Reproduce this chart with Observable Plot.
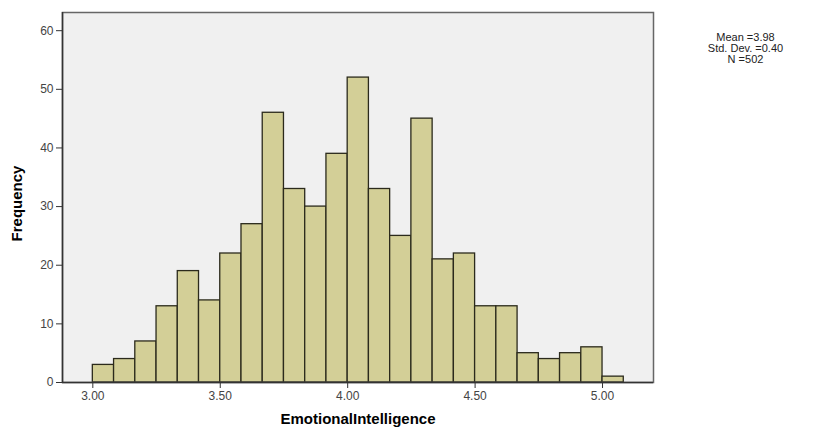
<!DOCTYPE html>
<html>
<head>
<meta charset="utf-8">
<script src="https://cdn.jsdelivr.net/npm/d3@7"></script>
<script src="https://cdn.jsdelivr.net/npm/@observablehq/plot@0.6"></script>
<style>
  html, body { margin: 0; padding: 0; background: #fff; }
  #chart svg { display: block; }
</style>
</head>
<body>
<div id="chart"></div>
<script>
// Histogram of EmotionalIntelligence (bin width 1/12, starting at 3.00)
const binStart = 3.0;
const binWidth = 1 / 12;
const counts = [3, 4, 7, 13, 19, 14, 22, 27, 46, 33, 30, 39, 52, 33, 25, 45, 21, 22, 13, 13, 5, 4, 5, 6, 1];
const xTicks = [3.0, 3.5, 4.0, 4.5, 5.0];
const yTicks = [0, 10, 20, 30, 40, 50, 60];
const statsLines = ["Mean =3.98", "Std. Dev. =0.40", "N =502"];

const bins = counts.map((c, i) => ({
  x1: binStart + i * binWidth,
  x2: binStart + (i + 1) * binWidth,
  count: c
}));

const chart = Plot.plot({
  width: 813,
  height: 432,
  marginLeft: 62,
  marginRight: 160,
  marginTop: 12,
  marginBottom: 50,
  style: { fontFamily: "'Liberation Sans', Arial, sans-serif", fontSize: "12px", color: "#333", background: "#fff" },
  x: { domain: [2.881, 5.2], ticks: xTicks, tickFormat: d3.format(".2f"), label: null },
  y: { domain: [0, 63.1], ticks: yTicks, label: null },
  marks: [
    Plot.frame({ fill: "#f0f0f0", stroke: "none" }),
    Plot.rectY(bins, { x1: "x1", x2: "x2", y: "count", fill: "#d3cf97", stroke: "#2b2a1c", strokeWidth: 1.3, inset: 0 }),
    Plot.frame({ stroke: "#666", strokeWidth: 1.5 }),
    Plot.ruleY([0], { stroke: "#333", strokeWidth: 1.5 }),
    Plot.ruleX([2.881], { stroke: "#333", strokeWidth: 1.5 }),
    Plot.axisY({ ticks: yTicks, tickSize: 6, tickPadding: 3, stroke: "#333", fill: "#444", fontSize: 12, label: null }),
    Plot.axisX({ ticks: xTicks, tickFormat: d3.format(".2f"), tickSize: 6, tickPadding: 3, stroke: "#333", fill: "#444", fontSize: 12, label: null }),
    Plot.text(["Frequency"], { frameAnchor: "left", dx: -45, dy: 6, rotate: -90, fontWeight: "bold", fontSize: 15, fill: "#000", textAnchor: "middle" }),
    Plot.text(["EmotionalIntelligence"], { frameAnchor: "bottom", dy: 41, fontWeight: "bold", fontSize: 15, fill: "#000", textAnchor: "middle" }),
    Plot.text([statsLines.join("\n")], { frameAnchor: "top-right", dx: 92, dy: 21, textAnchor: "middle", lineAnchor: "top", lineHeight: 1.0, fontSize: 11, fill: "#222" })
  ]
});

document.getElementById("chart").appendChild(chart);
</script>
</body>
</html>
